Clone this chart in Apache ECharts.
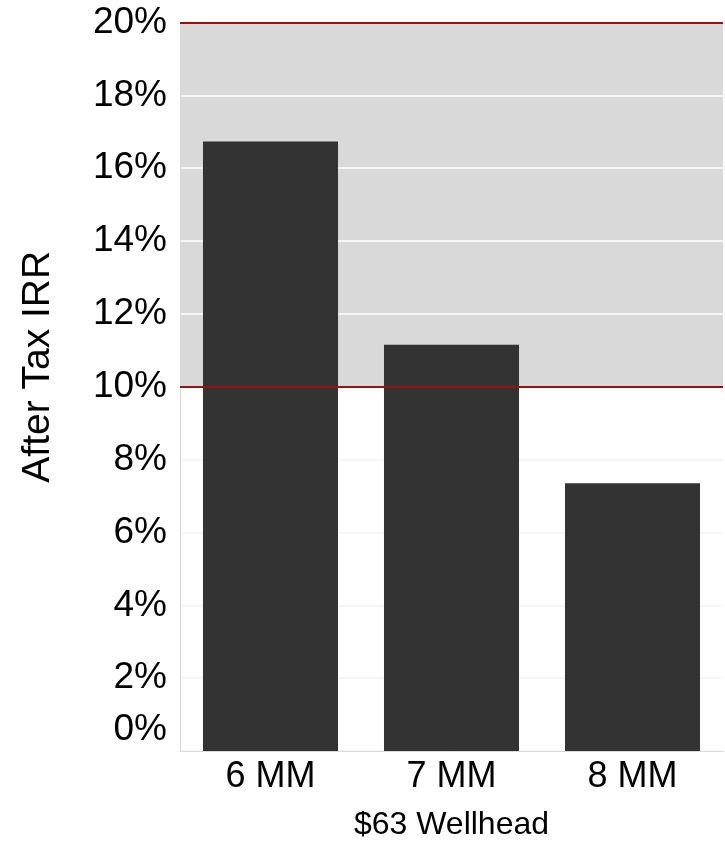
<!DOCTYPE html>
<html>
<head>
<meta charset="utf-8">
<style>
  html, body { margin: 0; padding: 0; background: #fff; }
  #chart { width: 725px; height: 842px; }
</style>
<script src="https://cdn.jsdelivr.net/npm/echarts@6/dist/echarts.min.js"></script>
</head>
<body>
<div id="chart"></div>
<script>
const categories = ['6 MM', '7 MM', '8 MM'];
const irrValues = [16.73, 11.15, 7.35];
const thresholdLines = [10, 20];
const yTicks = { min: 0, max: 20, interval: 2 };
const yTitle = 'After Tax IRR';
const xTitle = '$63 Wellhead';

const FONT = '"Liberation Sans", Arial, sans-serif';
const chart = echarts.init(document.getElementById('chart'));

chart.setOption({
  animation: false,
  backgroundColor: '#ffffff',
  grid: { left: 180, right: 2, top: 22.5, bottom: 91, containLabel: false, outerBoundsMode: 'none' },
  xAxis: {
    type: 'category',
    data: categories,
    axisLine: { show: true, lineStyle: { color: '#d9d9d9', width: 1 } },
    axisTick: { show: false },
    axisLabel: { color: '#000', fontSize: 36, fontFamily: FONT, margin: 8 },
    name: xTitle,
    nameLocation: 'middle',
    nameGap: 58,
    nameTextStyle: { color: '#000', fontSize: 32, fontFamily: FONT }
  },
  yAxis: {
    type: 'value',
    min: yTicks.min,
    max: yTicks.max,
    interval: yTicks.interval,
    axisLine: { show: true, lineStyle: { color: '#d9d9d9', width: 1 } },
    axisTick: { show: false },
    axisLabel: {
      color: '#000', fontSize: 37, fontFamily: FONT, margin: 13,
      formatter: function (v) {
        return v === 0 ? '{z|' + v + '%}' : v + '%';
      },
      rich: { z: { color: '#000', fontSize: 37, fontFamily: FONT, padding: [0, 0, 42, 0] } }
    },
    splitLine: { show: true, lineStyle: { color: '#f6f6f6', width: 2 } },
    splitArea: {
      show: true,
      areaStyle: { color: ['#ffffff', '#ffffff', '#ffffff', '#ffffff', '#ffffff',
                           '#d9d9d9', '#d9d9d9', '#d9d9d9', '#d9d9d9', '#d9d9d9'] }
    },
    name: yTitle,
    nameLocation: 'middle',
    nameGap: 122,
    nameRotate: 90,
    nameTextStyle: { color: '#000', fontSize: 39, fontFamily: FONT, padding: [0, 0, 0, 40] }
  },
  series: [{
    type: 'bar',
    data: irrValues,
    barWidth: '74.6%',
    itemStyle: { color: '#333333' },
    markLine: {
      silent: true,
      symbol: ['none', 'none'],
      label: { show: false },
      lineStyle: { color: '#a00f0f', width: 2, type: 'solid' },
      data: thresholdLines.map(v => ({ yAxis: v }))
    }
  }]
});
</script>
</body>
</html>
